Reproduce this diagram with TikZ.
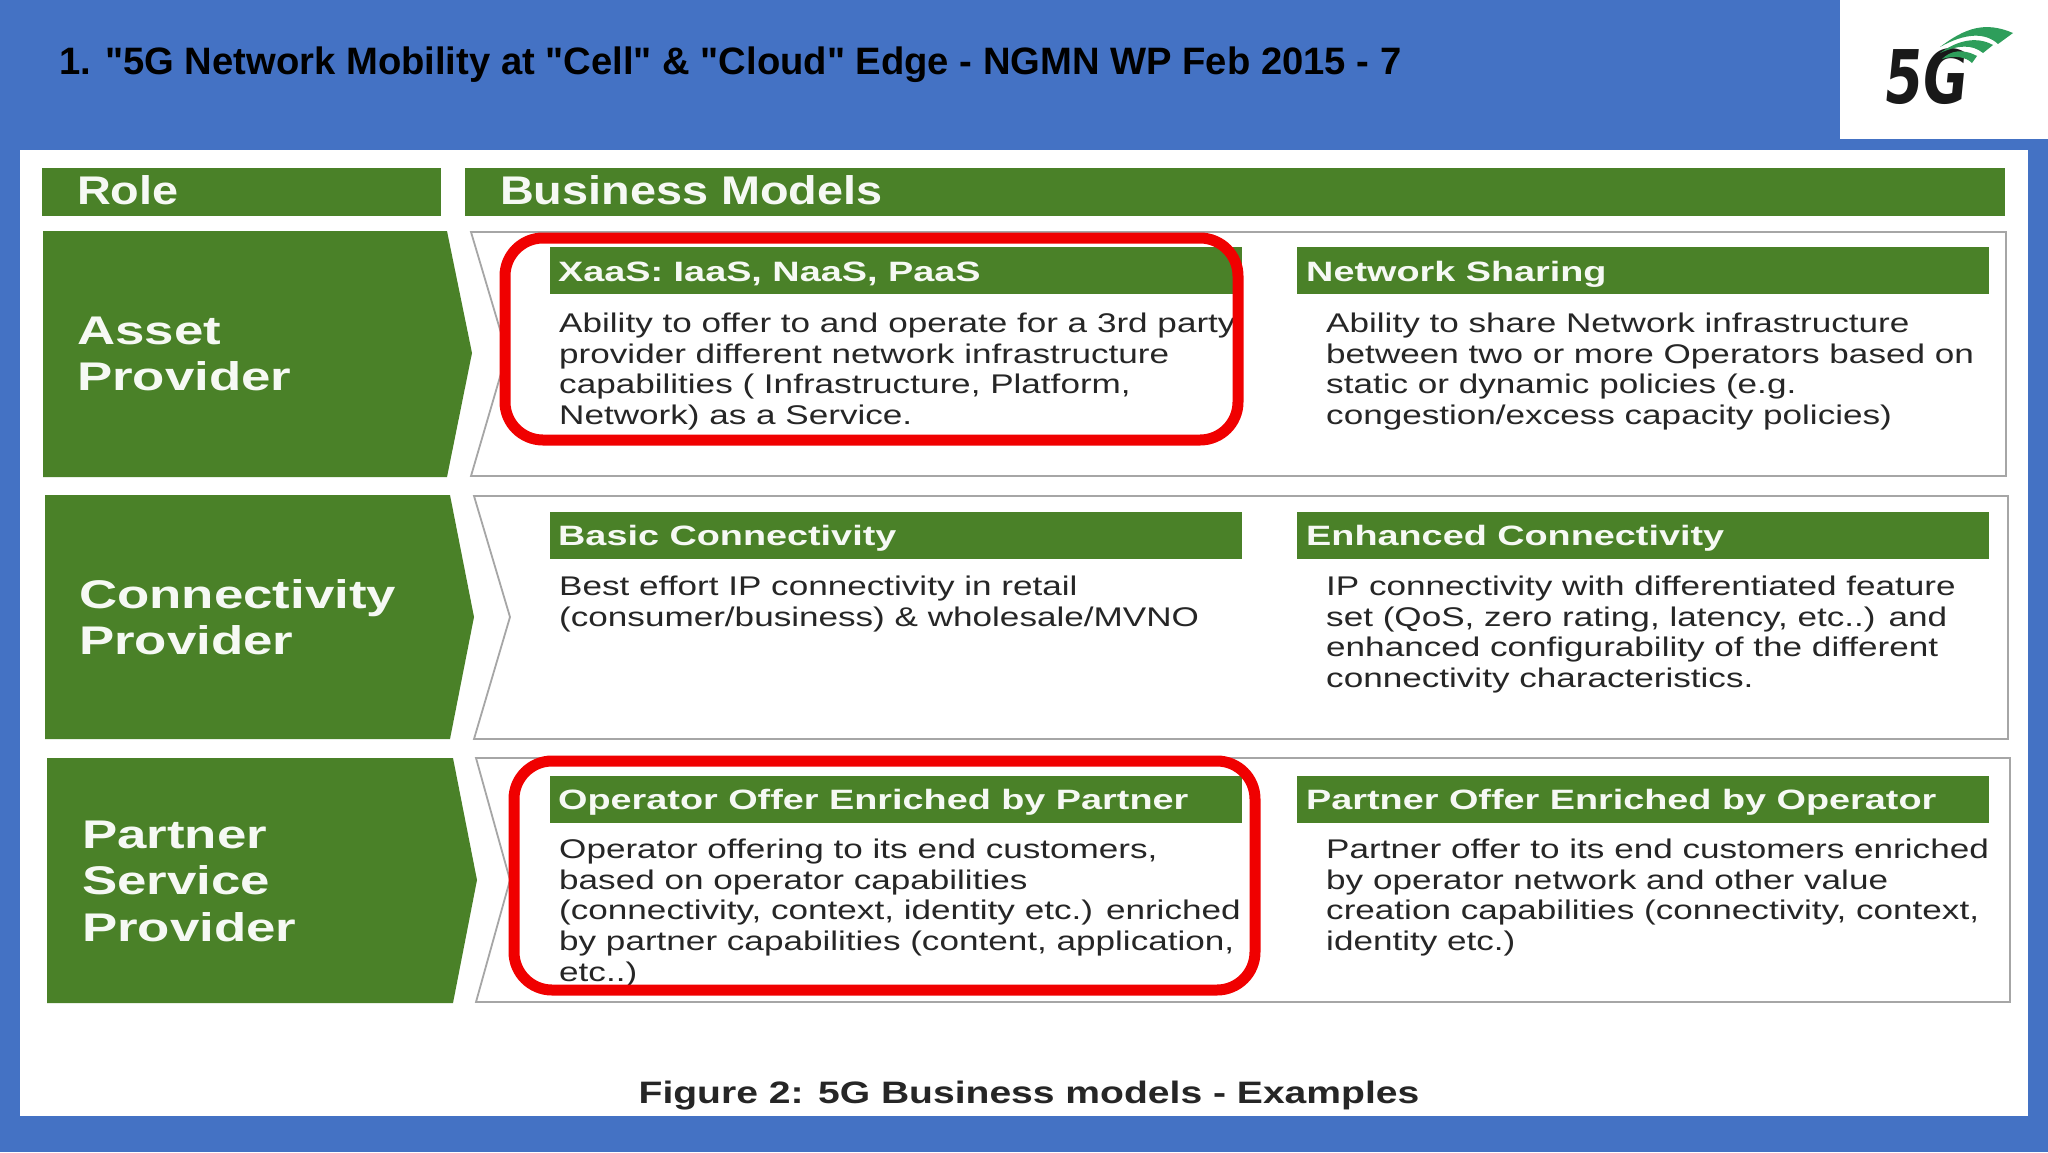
\documentclass[tikz,border=0pt]{standalone}
\usepackage{fontspec}
\setmainfont{Liberation Sans}
\newfontfamily\titlefont{Liberation Sans}
\newfontfamily\headfont[FakeStretch=1.17]{Liberation Sans}
\newfontfamily\subfont[FakeStretch=1.35]{Liberation Sans}
\newfontfamily\rolefont[FakeStretch=1.32]{Liberation Sans}
\newfontfamily\bodyfont[FakeStretch=1.30]{Liberation Sans}
\newfontfamily\capfont[FakeStretch=1.26]{Liberation Sans}
\newfontfamily\logofont[FakeStretch=.74,FakeSlant=.1]{DejaVu Sans}
\definecolor{bluebg}{HTML}{4472C4}
\definecolor{gr}{HTML}{4A8128}
\definecolor{rd}{HTML}{F00000}
\definecolor{pan}{HTML}{A6A6A6}
\definecolor{txt}{HTML}{262626}
\definecolor{logog}{HTML}{2E9E5B}
\tikzset{x=1pt,y=-1pt,
 band/.style={fill=gr,draw=none},
 hd/.style={font=\headfont\bfseries\fontsize{40}{40}\selectfont,text=white!95!gr,anchor=west,inner sep=0pt},
 sub/.style={font=\subfont\bfseries\fontsize{28}{28}\selectfont,text=white!95!gr,anchor=west,inner sep=0pt},
 role/.style={font=\rolefont\bfseries\fontsize{40}{46.5}\selectfont,text=white!95!gr,anchor=west,align=left,inner sep=0pt},
 body/.style={font=\bodyfont\fontsize{27}{30.6}\selectfont,text=txt,anchor=north west,align=left,inner sep=0pt},
 panel/.style={draw=pan,line width=1.8pt,fill=white},
 redbox/.style={draw=rd,line width=11pt,rounded corners=38pt}
}
\begin{document}
\begin{tikzpicture}
\useasboundingbox (0,0) rectangle (2048,1152);
\fill[bluebg] (0,0) rectangle (2048,1152);
\fill[white] (20,150) rectangle (2028,1116);
\fill[white] (1840,0) rectangle (2048,139);
\node[font=\titlefont\bfseries\fontsize{38.2}{38.2}\selectfont,text=black,anchor=west,inner sep=0pt] (title) at (59,65) {1. "5G Network Mobility at "Cell" \& "Cloud" Edge - NGMN WP Feb 2015 - 7};
% logo
\node[font=\logofont\bfseries\fontsize{74}{74}\selectfont,text=black!90,anchor=center,inner sep=0pt] (logo) at (1924,77) {5G};
\fill[logog] (1940,47) .. controls (1965,28) and (1985,21) .. (2013,33) -- (1998,44) .. controls (1985,32) and (1965,33) .. (1940,47) -- cycle;
\fill[logog] (1940,53) .. controls (1955,42) and (1975,35) .. (1993,45) -- (1983,53) .. controls (1972,44) and (1958,45) .. (1940,53) -- cycle;
\fill[logog] (1942,59) .. controls (1950,51) and (1962,48) .. (1977,56) -- (1972,63) .. controls (1966,57) and (1955,55) .. (1942,59) -- cycle;
% headers
\fill[band] (42,168) rectangle (441,216);
\node[hd] (role) at (77,190) {Role};
\fill[band] (465,168) rectangle (2005,216);
\node[hd] (bm) at (500,190) {Business Models};
% row panels
\draw[panel] (471,232) -- (2006,232) -- (2006,476) -- (471,476) -- (507,353) -- cycle;
\draw[panel] (474,496) -- (2008,496) -- (2008,739) -- (474,739) -- (510,617) -- cycle;
\draw[panel] (476,758) -- (2010,758) -- (2010,1002) -- (476,1002) -- (510,880) -- cycle;
% arrows
\fill[band] (43,231) -- (447,231) -- (472,353) -- (447,477) -- (43,477) -- cycle;
\fill[band] (45,495) -- (450,495) -- (474,617) -- (450,739) -- (45,739) -- cycle;
\fill[band] (47,758) -- (453,758) -- (477,880) -- (453,1003) -- (47,1003) -- cycle;
\node[role] (r1) at (77,354) {Asset\\Provider};
\node[role] (r2) at (79,617) {Connectivity\\Provider};
\node[role] (r3) at (82,881) {Partner\\Service\\Provider};
% sub headers
\foreach \y in {247,512,776}{
 \fill[band] (550,\y) rectangle ++(692,47);
 \fill[band] (1297,\y) rectangle ++(692,47);
}
\node[sub] (s1) at (558,274) {XaaS: IaaS, NaaS, PaaS};
\node[sub] (s2) at (1306,274) {Network Sharing};
\node[sub] (s3) at (558,538) {Basic Connectivity};
\node[sub] (s4) at (1306,538) {Enhanced Connectivity};
\node[sub] (s5) at (558,802) {Operator Offer Enriched by Partner};
\node[sub] (s6) at (1306,802) {Partner Offer Enriched by Operator};
% body
\node[body] (b1) at (559,313) {Ability to offer to and operate for a 3rd party\\provider different network infrastructure\\capabilities ( Infrastructure, Platform,\\Network) as a Service.};
\node[body] (b2) at (1326,313) {Ability to share Network infrastructure\\between two or more Operators based on\\static or dynamic policies (e.g.\\congestion/excess capacity policies)};
\node[body] (b3) at (559,576) {Best effort IP connectivity in retail\\(consumer/business) \& wholesale/MVNO};
\node[body] (b4) at (1326,576) {IP connectivity with differentiated feature\\set (QoS, zero rating, latency, etc..) and\\enhanced configurability of the different\\connectivity characteristics.};
\node[body] (b5) at (559,839) {Operator offering to its end customers,\\based on operator capabilities\\(connectivity, context, identity etc.) enriched\\by partner capabilities (content, application,\\etc..)};
\node[body] (b6) at (1326,839) {Partner offer to its end customers enriched\\by operator network and other value\\creation capabilities (connectivity, context,\\identity etc.)};
% red
\draw[redbox] (505,238) rectangle (1238,440);
\draw[redbox] (514,761) rectangle (1255,990);
\node[font=\capfont\bfseries\fontsize{31}{31}\selectfont,text=txt,inner sep=0pt] (cap) at (1029,1096) {Figure 2: 5G Business models - Examples};
\end{tikzpicture}
\end{document}
